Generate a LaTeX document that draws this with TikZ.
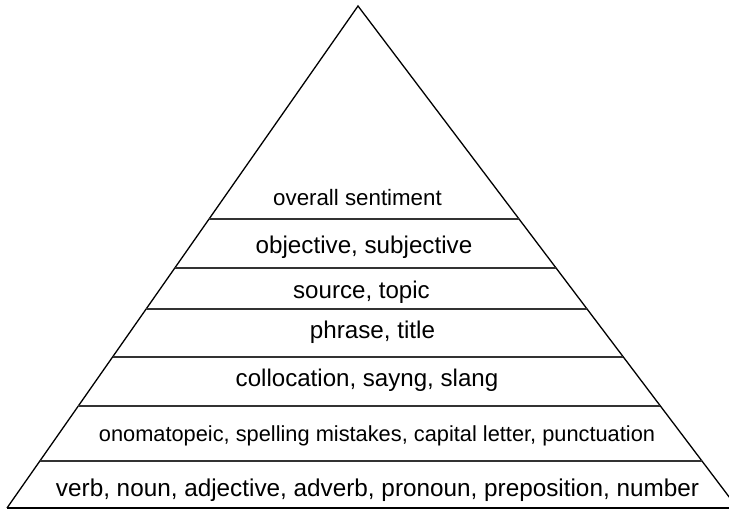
\documentclass[tikz,border=0pt]{standalone}
\usepackage{fontspec}
\setmainfont{Liberation Sans}
\usetikzlibrary{calc}
\begin{document}
\begin{tikzpicture}[x=1pt,y=-1pt,
  edge/.style={line width=1.3pt, black},
  tier/.style={line width=1.7pt, black!80},
  lbl/.style={inner sep=0pt, anchor=base, text=black}]
\useasboundingbox (0,0) rectangle (729,510);
\clip (0,0) rectangle (729,510);
\coordinate (apex) at (358,6);
\coordinate (bl) at (7,508);
\coordinate (br) at (737.5,508);
\draw[edge, line join=miter] (bl) -- (apex) -- (br);
\draw[edge] (bl) -- (br);
% tier lines, from the left edge to the right edge
\foreach \y in {219, 268, 309, 357, 406, 461}{
  \pgfmathsetmacro{\t}{(\y-6)/502}
  \draw[tier] ($(apex)!\t!(bl)$) -- ($(apex)!\t!(br)$);
}
\node[lbl, font=\fontsize{22.3}{26}\selectfont] (t1) at (357.5,206) {overall sentiment};
\node[lbl, font=\fontsize{24.2}{28}\selectfont] (t2) at (364,253.3) {objective, subjective};
\node[lbl, font=\fontsize{24.1}{28}\selectfont] (t3) at (361.5,299) {source, topic};
\node[lbl, font=\fontsize{24.2}{28}\selectfont] (t4) at (372.5,338.3) {phrase, title};
\node[lbl, font=\fontsize{24.1}{28}\selectfont] (t5) at (367,386.5) {collocation, sayng, slang};
\node[lbl, font=\fontsize{21.8}{26}\selectfont] (t6) at (377,442) {onomatopeic, spelling mistakes, capital letter, punctuation};
\node[lbl, font=\fontsize{24.3}{28}\selectfont] (t7) at (377.5,496.7) {verb, noun, adjective, adverb, pronoun, preposition, number};
\end{tikzpicture}
\end{document}
